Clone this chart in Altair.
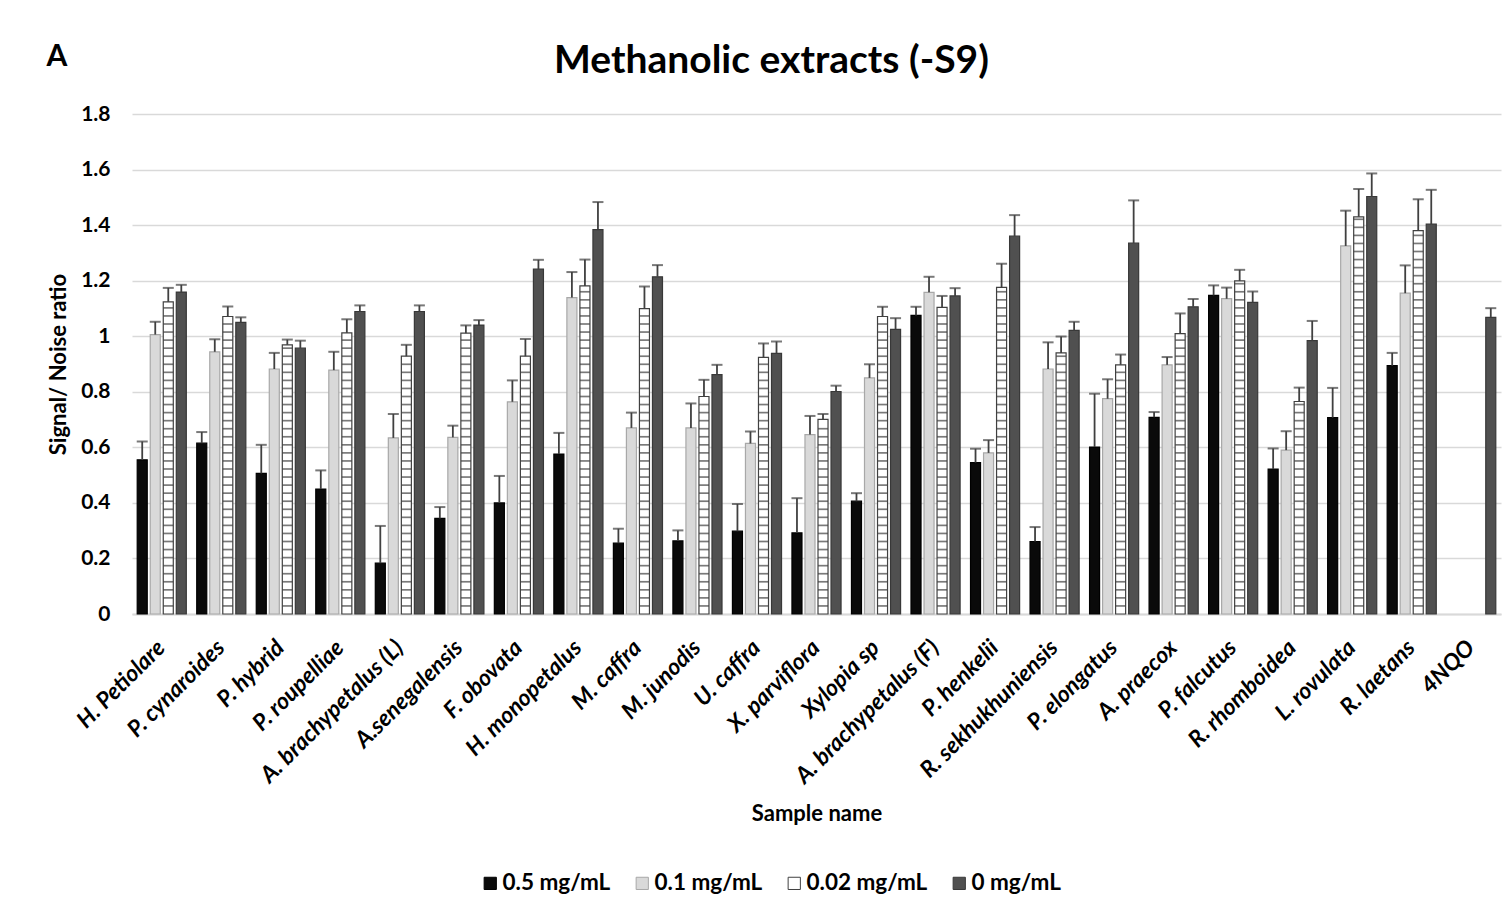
import altair as alt
import pandas as pd

samples = ["H. Petiolare", "P. cynaroides", "P. hybrid", "P. roupelliae",
           "A. brachypetalus (L)", "A.senegalensis", "F. obovata", "H. monopetalus",
           "M. caffra", "M. junodis", "U. caffra", "X. parviflora", "Xylopia sp",
           "A. brachypetalus (F)", "P. henkelii", "R. sekhukhuniensis", "P. elongatus",
           "A. praecox", "P. falcutus", "R. rhomboidea", "L. rovulata", "R. laetans", "4NQO"]

series = ["0.5 mg/mL", "0.1 mg/mL", "0.02 mg/mL", "0 mg/mL"]

conc_05 = [0.555, 0.615, 0.506, 0.450, 0.183, 0.344, 0.400, 0.576, 0.255, 0.263, 0.298, 0.292,
           0.406, 1.075, 0.545, 0.261, 0.601, 0.708, 1.147, 0.522, 0.707, 0.894, None]
err_05 = [0.066, 0.040, 0.103, 0.067, 0.134, 0.041, 0.097, 0.076, 0.052, 0.038, 0.098, 0.125,
          0.029, 0.031, 0.050, 0.052, 0.192, 0.019, 0.036, 0.074, 0.107, 0.046, None]

conc_01 = [1.006, 0.944, 0.882, 0.878, 0.634, 0.636, 0.764, 1.139, 0.670, 0.670, 0.614, 0.646,
           0.850, 1.158, 0.580, 0.882, 0.775, 0.897, 1.135, 0.590, 1.325, 1.155, None]
err_01 = [0.046, 0.045, 0.058, 0.066, 0.086, 0.042, 0.077, 0.092, 0.055, 0.088, 0.043, 0.067,
          0.049, 0.056, 0.046, 0.096, 0.070, 0.028, 0.040, 0.068, 0.127, 0.100, None]

conc_002 = [1.124, 1.071, 0.969, 1.012, 0.928, 1.011, 0.928, 1.181, 1.099, 0.783, 0.924, 0.701,
            1.071, 1.104, 1.176, 0.940, 0.897, 1.009, 1.199, 0.765, 1.430, 1.380, None]
err_002 = [0.050, 0.036, 0.019, 0.049, 0.041, 0.028, 0.062, 0.095, 0.080, 0.060, 0.050, 0.019,
           0.035, 0.041, 0.085, 0.059, 0.037, 0.073, 0.040, 0.050, 0.100, 0.113, None]

conc_0 = [1.159, 1.050, 0.957, 1.089, 1.089, 1.040, 1.242, 1.384, 1.214, 0.862, 0.938, 0.801,
          1.025, 1.145, 1.360, 1.021, 1.335, 1.106, 1.122, 0.984, 1.503, 1.404, 1.068]
err_0 = [0.026, 0.018, 0.027, 0.022, 0.022, 0.018, 0.033, 0.099, 0.042, 0.035, 0.043, 0.021,
         0.040, 0.028, 0.076, 0.031, 0.154, 0.028, 0.039, 0.071, 0.083, 0.123, 0.033]

y_ticks = [0, 0.2, 0.4, 0.6, 0.8, 1.0, 1.2, 1.4, 1.6, 1.8]

fills = ["#0a0a0a", "#d9d9d9", "#ffffff", "#505050"]
strokes = ["#000000", "#a8a8a8", "#404040", "#383838"]

rows = []
for i, s in enumerate(samples):
    for ser, vals, errs in zip(series, [conc_05, conc_01, conc_002, conc_0],
                               [err_05, err_01, err_002, err_0]):
        if vals[i] is None:
            continue
        rows.append({"sample": s, "series": ser, "value": vals[i], "top": vals[i] + errs[i]})
df = pd.DataFrame(rows)

# horizontal rungs of the "0.02 mg/mL" hatch pattern
stripe_step = 0.029
stripe_rows = []
for r in rows:
    if r["series"] != "0.02 mg/mL":
        continue
    k = 1
    while k * stripe_step < r["value"] - 0.008:
        stripe_rows.append({"sample": r["sample"], "series": r["series"], "y": k * stripe_step})
        k += 1
stripes_df = pd.DataFrame(stripe_rows)

FONT = "Lato"

x_enc = alt.X("sample:N", sort=samples,
              scale=alt.Scale(paddingInner=0, paddingOuter=0),
              axis=alt.Axis(title="Sample name", labelAngle=-45, labelAlign="right",
                            labelBaseline="top", labelPadding=22, labelOffset=-8,
                            labelFontSize=23,
                            labelFont=FONT, labelFontWeight="bold", labelFontStyle="italic",
                            labelColor="#000000", ticks=False, domainColor="#d9d9d9",
                            domainWidth=2, titleFont=FONT, titleFontSize=22,
                            titleFontWeight="bold", titleColor="#000000",
                            titleY=199, titleBaseline="middle", labelLimit=400))
xo_enc = alt.XOffset("series:N", sort=series,
                     scale=alt.Scale(domain=series, paddingInner=0.23, paddingOuter=0.4))
y_scale = alt.Scale(domain=[0, 1.8], nice=False)

bars = alt.Chart(df).mark_bar(strokeWidth=1.2).encode(
    x=x_enc,
    xOffset=xo_enc,
    y=alt.Y("value:Q", scale=y_scale,
            axis=alt.Axis(title="Signal/ Noise ratio", values=y_ticks, format=".1~f",
                          grid=True, gridColor="#d9d9d9", gridWidth=1.5, ticks=False,
                          domain=False, labelPadding=22, labelFont=FONT, labelFontSize=21,
                          labelFontWeight="bold", labelColor="#000000", titleFont=FONT,
                          titleFontSize=22, titleFontWeight="bold", titleColor="#000000",
                          titleX=-74, titleBaseline="middle")),
    fill=alt.Fill("series:N", sort=series,
                  scale=alt.Scale(domain=series, range=fills),
                  legend=alt.Legend(title=None, orient="none", direction="horizontal",
                                    legendX=347, legendY=758, symbolType="square",
                                    symbolSize=150, symbolStrokeColor="#404040",
                                    symbolStrokeWidth=1, labelFont=FONT, labelFontSize=22.5,
                                    labelFontWeight="bold", labelColor="#000000",
                                    columnPadding=20, labelOffset=1)),
    stroke=alt.Stroke("series:N", sort=series,
                      scale=alt.Scale(domain=series, range=strokes), legend=None),
)

stripes = alt.Chart(stripes_df).mark_tick(color="#404040", thickness=1.7, size=10).encode(
    x=alt.X("sample:N", sort=samples),
    xOffset=alt.XOffset("series:N", sort=series),
    y=alt.Y("y:Q", scale=y_scale),
)

err_rule = alt.Chart(df).mark_rule(color="#404040", strokeWidth=1.8).encode(
    x=alt.X("sample:N", sort=samples),
    xOffset=alt.XOffset("series:N", sort=series),
    y=alt.Y("value:Q", scale=y_scale),
    y2="top:Q",
)

err_cap = alt.Chart(df).mark_tick(color="#404040", thickness=2, size=11).encode(
    x=alt.X("sample:N", sort=samples),
    xOffset=alt.XOffset("series:N", sort=series),
    y=alt.Y("top:Q", scale=y_scale),
)

panel_label = alt.Chart(pd.DataFrame({"t": ["A"]})).mark_text(
    font=FONT, fontSize=30, fontWeight="bold", color="#000000",
    align="center", baseline="middle").encode(
    text="t:N", x=alt.value(-75), y=alt.value(-57))

chart = alt.layer(bars, stripes, err_rule, err_cap, panel_label).properties(
    width=1369, height=500,
    title=alt.TitleParams("Methanolic extracts (-S9)", font=FONT, fontSize=39,
                          fontWeight="bold", color="#000000", anchor="middle",
                          baseline="middle", dx=-45, offset=-58),
    autosize=alt.AutoSizeParams(type="none"),
    padding={"left": 124, "top": 106, "right": 2, "bottom": 290},
    background="#ffffff",
).configure_view(stroke=None)

chart.save("out.html", embed_options={"renderer": "svg", "actions": False})
